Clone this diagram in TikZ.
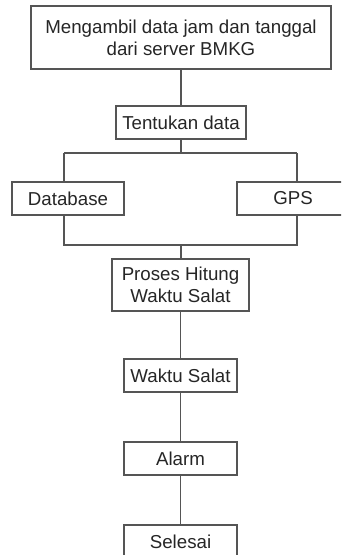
\documentclass[tikz,border=0pt]{standalone}
\usepackage{fontspec}
\setmainfont{Liberation Sans}
\begin{document}
\begin{tikzpicture}[x=1pt,y=-1pt,
  box/.style={draw=boxline, line width=1.5pt, fill=white, text=ink, align=center,
    inner sep=0pt, font=\fontsize{18.7}{22}\selectfont},
  link/.style={draw=boxline, line width=1.5pt}]
\definecolor{boxline}{HTML}{555555}
\definecolor{ink}{HTML}{262626}
\useasboundingbox (0,0) rectangle (341,555);
\begin{scope}
\clip (0,0) rectangle (341,555);
% process boxes
\node[box, minimum width=300, minimum height=63] (fetch) at (181,37.5)
  {Mengambil data jam dan tanggal\\dari server BMKG};
\node[box, minimum width=130, minimum height=33] (choose) at (181,122.5) {Tentukan data};
\node[box, minimum width=112, minimum height=33] (db) at (68,198.5) {Database};
\node[box, minimum width=112, minimum height=33] (gps) at (293,198.5) {GPS};
\node[box, minimum width=137, minimum height=52] (calc) at (180.5,285)
  {Proses Hitung\\Waktu Salat};
\node[box, minimum width=113, minimum height=33] (times) at (180.5,375.5) {Waktu Salat};
\node[box, minimum width=113, minimum height=33] (alarm) at (180.5,458.5) {Alarm};
\node[box, minimum width=113, minimum height=33] (done) at (180.5,541.5) {Selesai};
% branch and merge points
\coordinate (split) at (181,153);
\coordinate (splitL) at (64,153);
\coordinate (splitR) at (297,153);
\coordinate (merge) at (181,245);
\coordinate (mergeL) at (64,245);
\coordinate (mergeR) at (297,245);
% connectors
\draw[link] (fetch.south) -- (choose.north);
\draw[link] (choose.south) -- (split);
\draw[link] (splitL) -- (splitR);
\draw[link] (splitL) -- (splitL |- db.north);
\draw[link] (splitR) -- (splitR |- gps.north);
\draw[link] (mergeL |- db.south) -- (mergeL) -- (mergeR) -- (mergeR |- gps.south);
\draw[link] (merge) -- (merge |- calc.north);
\draw[link] (calc.south) -- (times.north);
\draw[link] (times.south) -- (alarm.north);
\draw[link] (alarm.south) -- (done.north);
\end{scope}
\end{tikzpicture}
\end{document}
